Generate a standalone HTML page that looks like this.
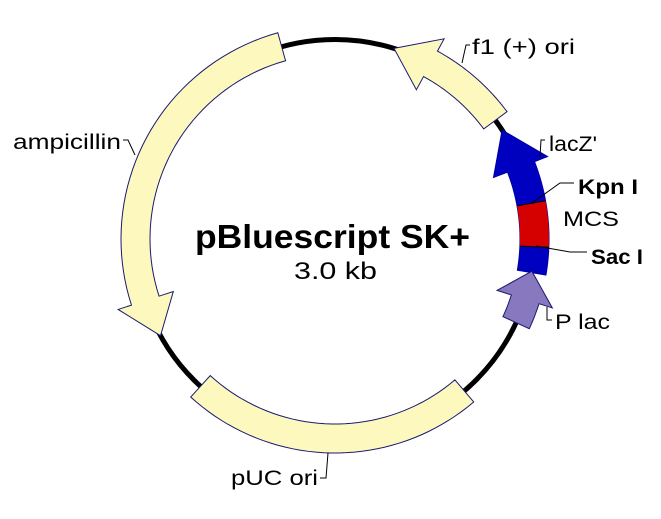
<!DOCTYPE html>
<html><head><meta charset="utf-8"><style>
html,body{margin:0;padding:0;background:#fff;}
svg{display:block;}
text{font-family:"Liberation Sans",sans-serif;fill:#000;}
</style></head><body>
<svg id="s" width="661" height="519" viewBox="0 0 661 519" xmlns="http://www.w3.org/2000/svg">
<g id="g" transform="translate(335,239)"></g>
<g fill="none" stroke="#000" stroke-width="1">
<polyline points="470,45 466,45 462,63"/>
<polyline points="123,140 128,140 135,155"/>
<polyline points="545,140 541,140 540,157"/>
<polyline points="574,183 560,183 532,203"/>
<polyline points="587,252 570,252 536,246"/>
<polyline points="552,320 547,320 547,307"/>
<polyline points="320,478 326,478 328,453"/>
</g>
<text x="472" y="54" font-size="21" textLength="103" lengthAdjust="spacingAndGlyphs">f1 (+) ori</text>
<text x="13" y="149" font-size="21" textLength="108" lengthAdjust="spacingAndGlyphs">ampicillin</text>
<text x="549" y="151" font-size="21" textLength="48" lengthAdjust="spacingAndGlyphs">lacZ'</text>
<text x="578" y="194" font-size="21" font-weight="bold" textLength="60" lengthAdjust="spacingAndGlyphs">Kpn I</text>
<text x="563" y="226" font-size="21" textLength="56" lengthAdjust="spacingAndGlyphs">MCS</text>
<text x="591" y="264" font-size="21" font-weight="bold" textLength="52" lengthAdjust="spacingAndGlyphs">Sac I</text>
<text x="555" y="329" font-size="21" textLength="55" lengthAdjust="spacingAndGlyphs">P lac</text>
<text x="231" y="485" font-size="21" textLength="87" lengthAdjust="spacingAndGlyphs">pUC ori</text>
<text x="195" y="248" font-size="33" font-weight="bold" textLength="275" lengthAdjust="spacingAndGlyphs">pBluescript SK+</text>
<text x="294" y="279" font-size="24" textLength="83" lengthAdjust="spacingAndGlyphs">3.0 kb</text>
</svg>
<script>
var g=document.getElementById('g');var NS='http://www.w3.org/2000/svg';
function P(r,a){a=a*Math.PI/180;return (r*Math.sin(a)).toFixed(2)+','+(-r*Math.cos(a)).toFixed(2);}
function add(d,fill,stroke,sw){var p=document.createElementNS(NS,'path');p.setAttribute('d',d);p.setAttribute('fill',fill);p.setAttribute('stroke',stroke||'none');p.setAttribute('stroke-width',sw||0);g.appendChild(p);}
var ri=185,ro=214,wi=170,wo=228;
function arcPts(r,a1,a2){var s='',n=40;for(var i=0;i<=n;i++){s+=' L'+P(r,a1+(a2-a1)*i/n);}return s;}
function band(a1,a2,fill,stroke){add('M'+P(ro,a1)+arcPts(ro,a1,a2)+arcPts(ri,a2,a1)+'Z',fill,stroke,stroke?1:0);}
function arrow(a1,ab,at,fill,stroke){add('M'+P(ro,a1)+arcPts(ro,a1,ab)+' L'+P(wo,ab)+' L'+P(199.5,at)+' L'+P(wi,ab)+' L'+P(ri,ab)+arcPts(ri,ab,a1)+'Z',fill,stroke,1);}
var c=document.createElementNS(NS,'circle');c.setAttribute('r',199.5);c.setAttribute('fill','none');c.setAttribute('stroke','#000');c.setAttribute('stroke-width',5);g.appendChild(c);
var Y='#fdf8bd',N='#1a1a6e';
arrow(344.5,252,241,Y,N);
arrow(53.5,28.6,17.2,Y,N);
band(139.6,222.4,Y,N);
arrow(99.7,68.8,56.9,'#0000c0','#0000a0');
band(79.7,92.2,'#d50000');
add('M'+P(ri,79.7)+' L'+P(ro,79.7),'none','#000',1);
add('M'+P(ri,92.2)+' L'+P(ro,92.2),'none','#000',1);
arrow(114.8,107.6,99.3,'#8878c0',N);
</script>
</body></html>
